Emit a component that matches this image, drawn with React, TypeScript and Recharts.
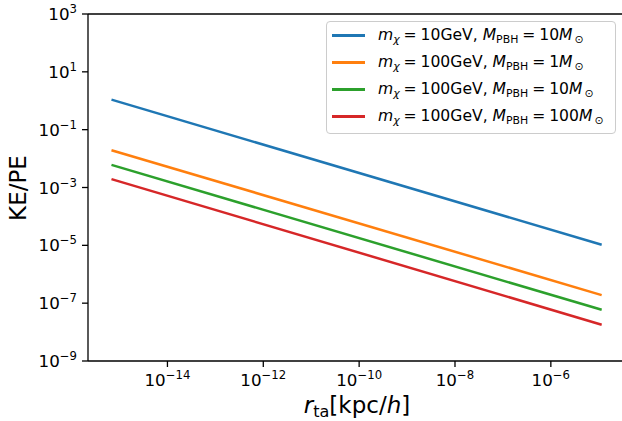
import React from 'react';
import { LineChart, Line, XAxis, YAxis, Legend, ReferenceLine } from 'recharts';

// radius values (kpc/h) at the ends of each curve
const rValues = [6.8e-16, 1.15e-5];
// KE/PE for each series
const blueValues = [1.09, 1.05e-5];
const orangeValues = [0.0195, 1.9e-7];
const greenValues = [6.05e-3, 5.9e-8];
const redValues = [1.95e-3, 1.8e-8];

const seriesKeys = ['s0', 's1', 's2', 's3'];
const seriesColors = ['#1f77b4', '#ff7f0e', '#2ca02c', '#d62728'];
const chiMasses = ['10', '100', '100', '100'];
const pbhMasses = ['10', '1', '10', '100'];

const xTicks = [1e-14, 1e-12, 1e-10, 1e-8, 1e-6];
const yTicks = [1e-9, 1e-7, 1e-5, 1e-3, 1e-1, 1e1, 1e3];
const xDomain = [2.2e-16, 3.7e-5];
const yDomain = [1e-9, 1e3];

const allValues = [blueValues, orangeValues, greenValues, redValues];
const data = rValues.map((r, i) => {
  const row: Record<string, number> = { r };
  seriesKeys.forEach((k, j) => {
    row[k] = allValues[j][i];
  });
  return row;
});

const FONT = 'DejaVu Sans';

const expLabel = (v: number) => {
  const e = Math.round(Math.log10(v));
  return e < 0 ? '\u2212' + String(-e) : String(e);
};

const XTick = (props: any) => {
  const { x, payload } = props;
  return (
    <text x={x} y={386} textAnchor="middle" fill="#000" fontFamily={FONT} fontSize={16.7}>
      <tspan>10</tspan>
      <tspan fontSize={11.7} dy={-7}>{expLabel(payload.value)}</tspan>
    </text>
  );
};

const YTick = (props: any) => {
  const { y, payload } = props;
  return (
    <text x={77} y={y + 6} textAnchor="end" fill="#000" fontFamily={FONT} fontSize={16.7}>
      <tspan>10</tspan>
      <tspan fontSize={11.7} dy={-7}>{expLabel(payload.value)}</tspan>
    </text>
  );
};

const XLabel = (props: any) => {
  const vb = props.viewBox || { x: 88, width: 538 };
  const cx = vb.x + vb.width / 2;
  return (
    <text x={cx} y={413} textAnchor="middle" fill="#000" fontFamily={FONT} fontSize={23}>
      <tspan fontStyle="italic">r</tspan>
      <tspan fontSize={16} dy={4} fontStyle="normal">ta</tspan>
      <tspan dy={-4} fontStyle="normal">[kpc/</tspan>
      <tspan fontStyle="italic">h</tspan>
      <tspan fontStyle="normal">]</tspan>
    </text>
  );
};

const YLabel = () => (
  <text
    x={26}
    y={188}
    transform="rotate(-90, 26, 188)"
    textAnchor="middle"
    fill="#000"
    fontFamily={FONT}
    fontSize={23}
  >
    KE/PE
  </text>
);

const subStyle: React.CSSProperties = {
  fontSize: '0.7em',
  position: 'relative',
  top: '0.3em',
};
const eqStyle: React.CSSProperties = { margin: '0 0.25em' };

const renderLegend = () => (
  <div
    style={{
      boxSizing: 'border-box',
      width: 290,
      height: 113,
      border: '1px solid #cccccc',
      borderRadius: 4,
      background: 'rgba(255,255,255,0.8)',
      fontFamily: FONT,
      fontSize: 15.6,
      color: '#000',
    }}
  >
    {seriesKeys.map((k, i) => (
      <div key={k} style={{ height: 27, display: 'flex', alignItems: 'center' }}>
        <div
          style={{
            marginLeft: 5,
            width: 33,
            height: 2.5,
            flexShrink: 0,
            background: seriesColors[i],
          }}
        />
        <div style={{ marginLeft: 13, whiteSpace: 'nowrap', lineHeight: '27px', flexShrink: 0 }}>
          <span style={{ fontStyle: 'italic' }}>m</span>
          <span style={{ ...subStyle, fontStyle: 'italic' }}>χ</span>
          <span style={eqStyle}>=</span>
          <span>{chiMasses[i]}GeV, </span>
          <span style={{ fontStyle: 'italic' }}>M</span>
          <span style={subStyle}>PBH</span>
          <span style={eqStyle}>=</span>
          <span>{pbhMasses[i]}</span>
          <span style={{ fontStyle: 'italic' }}>M</span>
          <span style={{ ...subStyle, marginLeft: 2 }}>⊙</span>
        </div>
      </div>
    ))}
  </div>
);

export default function App() {
  return (
    <div
      style={{
        position: 'absolute',
        left: 0,
        top: 0,
        width: 622,
        height: 421,
        overflow: 'hidden',
        background: '#fff',
      }}
    >
      <LineChart
        width={640}
        height={421}
        data={data}
        margin={{ top: 14, right: 14, bottom: 0, left: 0 }}
      >
        <XAxis
          dataKey="r"
          type="number"
          scale="log"
          domain={xDomain}
          ticks={xTicks}
          interval={0}
          allowDataOverflow
          height={60}
          axisLine={{ stroke: '#000', strokeWidth: 1.3 }}
          tickLine={{ stroke: '#000', strokeWidth: 1.3 }}
          tickSize={6}
          tick={<XTick />}
          label={{ content: <XLabel /> }}
        />
        <YAxis
          type="number"
          scale="log"
          domain={yDomain}
          ticks={yTicks}
          interval={0}
          allowDataOverflow
          width={88}
          axisLine={{ stroke: '#000', strokeWidth: 1.3 }}
          tickLine={{ stroke: '#000', strokeWidth: 1.3 }}
          tickSize={6}
          tick={<YTick />}
          label={{ content: <YLabel /> }}
        />
        <ReferenceLine y={1000} stroke="#000" strokeWidth={1.3} ifOverflow="visible" />
        {seriesKeys.map((k, i) => (
          <Line
            key={k}
            dataKey={k}
            type="linear"
            stroke={seriesColors[i]}
            strokeWidth={2.5}
            dot={false}
            isAnimationActive={false}
          />
        ))}
        <Legend
          layout="vertical"
          align="center"
          verticalAlign="middle"
          content={renderLegend}
          wrapperStyle={{ left: 326, top: 21, width: 290, height: 113 }}
        />
      </LineChart>
    </div>
  );
}
